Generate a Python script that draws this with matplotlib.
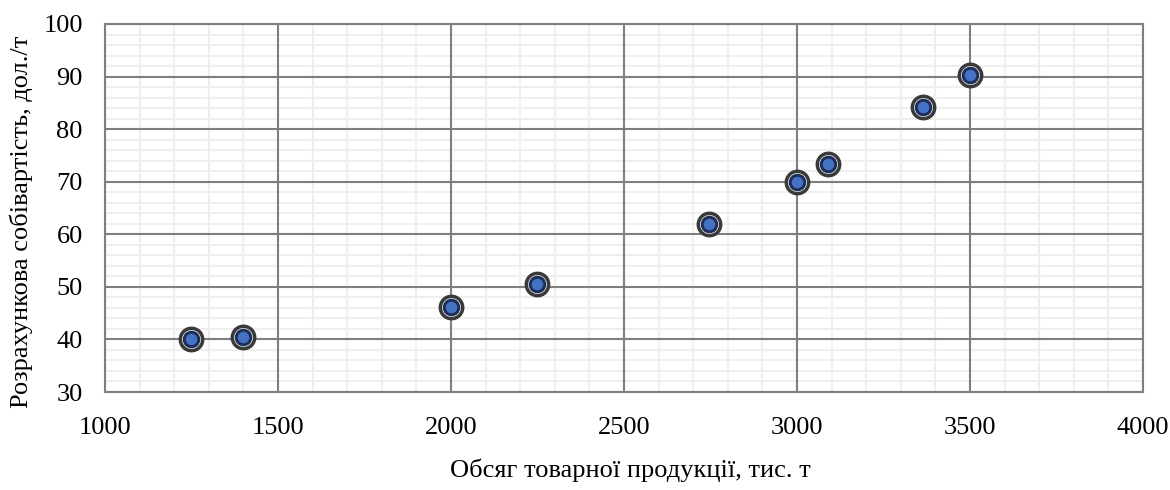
import matplotlib.pyplot as plt
from matplotlib.ticker import MultipleLocator

# дані
obsyag = [1250, 1400, 2000, 2250, 2745, 3000, 3090, 3365, 3500]
sobivartist = [40.0, 40.4, 46.2, 50.5, 62.0, 70.0, 73.3, 84.3, 90.3]
x_ticks = [1000, 1500, 2000, 2500, 3000, 3500, 4000]
y_ticks = [30, 40, 50, 60, 70, 80, 90, 100]

plt.rcParams['font.family'] = ['Liberation Serif', 'DejaVu Serif']

fig = plt.figure(figsize=(11.7, 4.9), dpi=100)
rect = [105 / 1170, 1 - 392 / 490, (1143 - 105) / 1170, (392 - 24) / 490]

# фонові осі лише для дрібної сітки (щоб вона була під основною)
bg = fig.add_axes(rect)
bg.set_xlim(1000, 4000)
bg.set_ylim(30, 100)
bg.xaxis.set_major_locator(MultipleLocator(100))
bg.yaxis.set_major_locator(MultipleLocator(2))
bg.grid(color='#efefef', linewidth=1.5)
bg.tick_params(length=0, labelbottom=False, labelleft=False)
for s in bg.spines.values():
    s.set_visible(False)

ax = fig.add_axes(rect)
ax.patch.set_alpha(0)
ax.set_xlim(1000, 4000)
ax.set_ylim(30, 100)
ax.set_xticks(x_ticks)
ax.set_yticks(y_ticks)
ax.grid(color='#7f7f7f', linewidth=1.5)
ax.set_axisbelow(True)
ax.tick_params(length=0, labelsize=19)
ax.tick_params(axis='x', pad=18)
ax.tick_params(axis='y', pad=16)
for s in ax.spines.values():
    s.set_color('#7f7f7f')
    s.set_linewidth(1.5)

# маркери: зовнішнє кільце + внутрішня точка
ax.scatter(obsyag, sobivartist, s=260, facecolor='white', edgecolor='#3a3a3a', linewidth=2.5, zorder=3)
ax.scatter(obsyag, sobivartist, s=110, facecolor='#4472c4', edgecolor='#1f2f5a', linewidth=2.2, zorder=4)

ax.set_xlabel('Обсяг товарної продукції, тис. т', fontsize=19)
ax.set_ylabel('Розрахункова собівартість, дол./т', fontsize=19)
ax.xaxis.set_label_coords(0.506, -0.182)
ax.yaxis.set_label_coords(-0.069, 0.462)

fig.savefig('out.png', dpi=100)
